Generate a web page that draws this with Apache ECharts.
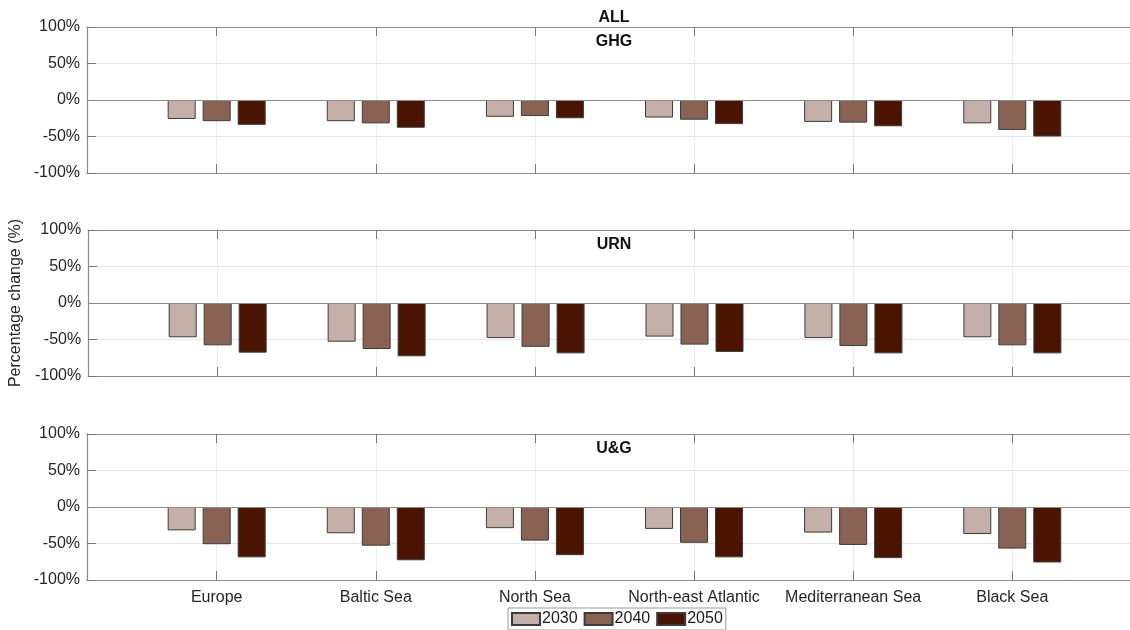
<!DOCTYPE html>
<html>
<head>
<meta charset="utf-8">
<script src="https://cdn.jsdelivr.net/npm/echarts@6/dist/echarts.min.js"></script>
<style>html,body{margin:0;padding:0;background:#fff;}#chart{width:1130px;height:630px;}</style>
</head>
<body>
<div id="chart"></div>
<script>
const regions = ['Europe', 'Baltic Sea', 'North Sea', 'North-east Atlantic', 'Mediterranean Sea', 'Black Sea'];
const years = ['2030', '2040', '2050'];
const panelTitles = ['GHG', 'URN', 'U&G'];
const mainTitle = 'ALL';
const yTicks = [-100, -50, 0, 50, 100];

const ghg2030 = [-26, -29, -23, -24, -30, -32];
const ghg2040 = [-29, -32, -22, -27, -31, -41];
const ghg2050 = [-34, -38, -25, -33, -36, -50];
const urn2030 = [-47, -53, -48, -46, -48, -47];
const urn2040 = [-58, -63, -60, -57, -59, -58];
const urn2050 = [-68, -73, -69, -67, -69, -69];
const ug2030 = [-32, -36, -29, -30, -35, -37];
const ug2040 = [-51, -53, -46, -49, -52, -57];
const ug2050 = [-69, -73, -66, -69, -70, -76];

const panelData = [
  [ghg2030, ghg2040, ghg2050],
  [urn2030, urn2040, urn2050],
  [ug2030, ug2040, ug2050]
];
const colors = ['#c5b0a9', '#8a6253', '#4a1400'];
const FONT = 'Liberation Sans, Arial, Helvetica, sans-serif';
const gridTops = [27, 230, 434];
const gridH = 146;
const xMin = 0.185, xMax = 6.74;
const tickVals = regions.map((r, i) => i + 1);

const grids = [], xAxes = [], yAxes = [], series = [];
gridTops.forEach((top, g) => {
  grids.push({ left: 87, right: 0, top: top, height: gridH, containLabel: false });
  xAxes.push({
    type: 'value', gridIndex: g, min: xMin, max: xMax, position: 'bottom',
    axisLine: { show: true, onZero: false, lineStyle: { color: '#8c8c8c', width: 1.2 } },
    axisTick: { show: true, inside: true, length: 9, customValues: tickVals, lineStyle: { color: '#777' } },
    axisLabel: {
      show: g === 2, customValues: tickVals, margin: 10,
      fontFamily: FONT, fontSize: 16, color: '#262626',
      formatter: v => regions[Math.round(v) - 1] || ''
    },
    splitLine: { show: true, lineStyle: { color: '#ebebeb', width: 1 } }
  });
  xAxes.push({
    type: 'value', gridIndex: g, min: xMin, max: xMax, position: 'top',
    axisLine: { show: true, onZero: false, lineStyle: { color: '#8c8c8c', width: 1.2 } },
    axisTick: { show: true, inside: true, length: 9, customValues: tickVals, lineStyle: { color: '#777' } },
    axisLabel: { show: false },
    splitLine: { show: false }
  });
  yAxes.push({
    type: 'value', gridIndex: g, min: -100, max: 100, interval: 50,
    axisLine: { show: true, lineStyle: { color: '#8c8c8c', width: 1.2 } },
    axisTick: { show: true, inside: true, length: 9, lineStyle: { color: '#777' } },
    axisLabel: { margin: 7, fontFamily: FONT, fontSize: 16, color: '#262626', formatter: '{value}%' },
    splitLine: { show: true, lineStyle: { color: '#e6e6e6', width: 1 } },
    name: g === 1 ? 'Percentage change (%)' : '',
    nameLocation: 'middle', nameGap: 57,
    nameTextStyle: { fontFamily: FONT, fontSize: 16, color: '#262626' }
  });
  panelData[g].forEach((arr, k) => {
    const s = {
      type: 'bar', name: years[k], xAxisIndex: 2 * g, yAxisIndex: g,
      data: arr.map((v, i) => [i + 1, v]),
      barWidth: 28, barGap: '25%',
      itemStyle: { color: colors[k], borderColor: '#3c3c3c', borderWidth: 1 },
      silent: true
    };
    if (k === 0) {
      s.markLine = {
        silent: true, symbol: ['none', 'none'], label: { show: false },
        lineStyle: { color: '#8c8c8c', width: 1.2, type: 'solid' },
        data: [{ yAxis: 0 }]
      };
    }
    series.push(s);
  });
});

const titleX = 614;
const graphics = [
  { type: 'text', x: titleX, y: 18, style: { text: mainTitle, font: 'bold 16px ' + FONT, fill: '#111', align: 'center', verticalAlign: 'middle' } },
  { type: 'text', x: titleX, y: 42, style: { text: panelTitles[0], font: 'bold 16px ' + FONT, fill: '#111', align: 'center', verticalAlign: 'middle' } },
  { type: 'text', x: titleX, y: 245, style: { text: panelTitles[1], font: 'bold 16px ' + FONT, fill: '#111', align: 'center', verticalAlign: 'middle' } },
  { type: 'text', x: titleX, y: 449, style: { text: panelTitles[2], font: 'bold 16px ' + FONT, fill: '#111', align: 'center', verticalAlign: 'middle' } }
];

const chart = echarts.init(document.getElementById('chart'));
chart.setOption({
  animation: false,
  backgroundColor: '#fff',
  grid: grids, xAxis: xAxes, yAxis: yAxes, series: series,
  graphic: graphics,
  legend: {
    data: years, left: 508, top: 608, icon: 'rect',
    itemWidth: 28, itemHeight: 12, itemGap: 6, padding: [3, 3],
    borderColor: '#9a9a9a', borderWidth: 1, backgroundColor: '#fff',
    textStyle: { fontFamily: FONT, fontSize: 16, color: '#1a1a1a', padding: [0, 0, 0, -3] }
  }
});
</script>
</body>
</html>
